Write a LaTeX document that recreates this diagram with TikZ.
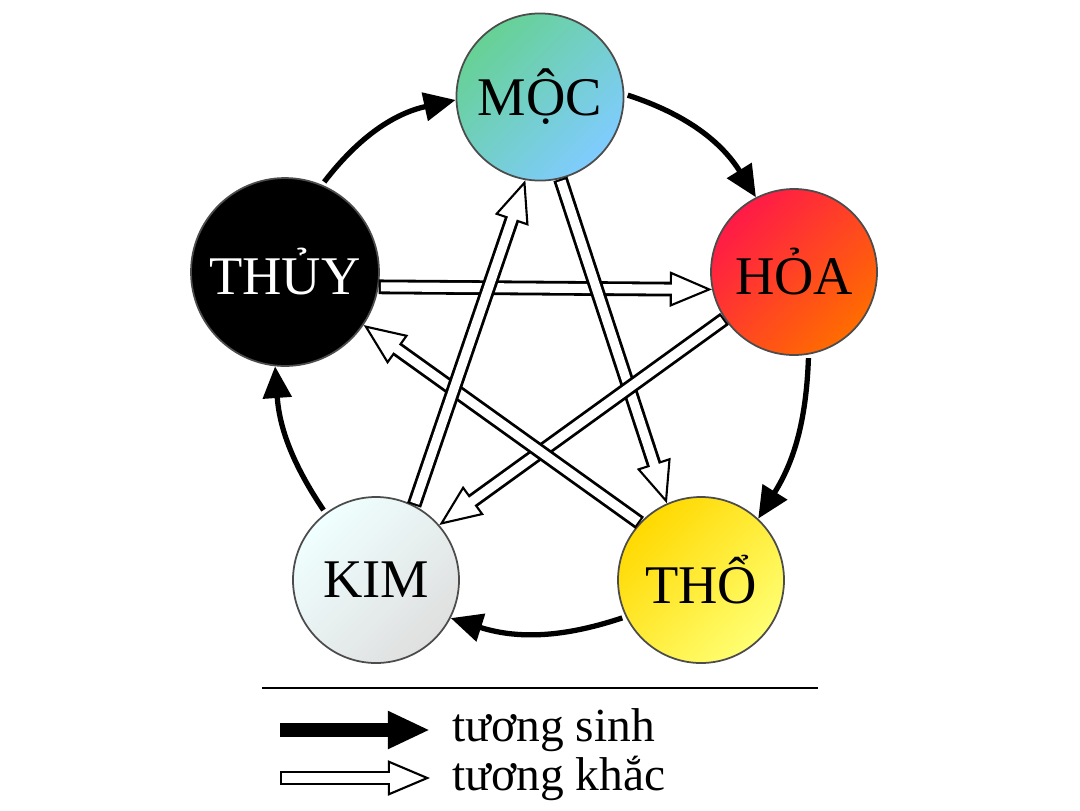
\documentclass[tikz,border=0pt]{standalone}
\usepackage{fontspec}
\setmainfont{Liberation Serif}
\usetikzlibrary{arrows.meta}
\begin{document}
\begin{tikzpicture}[
    hanh/.style={circle, draw=black!70, line width=0.5pt, minimum size=1.66cm, font=\fontsize{15.5}{16}\selectfont},
    sinh/.style={line width=1.5pt, -{Triangle[length=9pt,width=8pt]}, shorten <=1pt},
    khac/.style={line width=4.2pt, -{Triangle[length=12pt,width=10pt,fill=white,line width=0.6pt]},
        postaction={draw=white, line width=2.6pt, -, shorten >=11pt, shorten <=0.6pt}},
  ]
  \useasboundingbox (0,0) rectangle (10.8,8.1);

  % Elements
  \node[hanh, left color=teal!60!green!60, right color=cyan!60!blue!50, shading angle=45] (moc) at (5.40,7.13) {MỘC};
  \node[hanh, left color=red!80!magenta!90, right color=orange!85!red, shading angle=45] (hoa) at (7.94,5.38) {HỎA};
  \node[hanh, left color=yellow!70!orange, right color=yellow!55, shading angle=45] (tho) at (7.01,2.30) {THỔ};
  \node[hanh, left color=cyan!6, right color=gray!25, shading angle=45] (kim) at (3.76,2.30) {KIM};
  \node[hanh, left color=black, middle color=gray!80, right color=black, shading angle=45, text=white] (thuy) at (2.85,5.38) {THỦY};

  % Generating cycle
  \draw[sinh] (moc.2) to[bend left=20] (hoa.117);
  \draw[sinh] (hoa.-80) to[bend left=15] (tho.47);
  \draw[sinh] (tho.206) to[bend left=18] (kim.-27);
  \draw[sinh] (kim.127) to[bend left=15] (thuy.-96);
  \draw[sinh] (thuy.67) to[bend left=20] (moc.182);

  % Overcoming cycle
  \draw[khac] (thuy.-9) -- (hoa.192);
  \draw[khac] (moc.-76) -- (tho.114);
  \draw[khac] (hoa.214) -- (kim.41);
  \draw[khac] (tho.137) -- (thuy.-34);
  \draw[khac] (kim.63) -- (moc.260);

  % Legend
  \draw[line width=0.6pt] (2.62,1.22) coordinate (la) -- (8.18,1.22) coordinate (lb);
  \coordinate (s1) at (2.80,0.80);
  \coordinate (s2) at (4.30,0.80);
  \coordinate (k1) at (2.80,0.32);
  \coordinate (k2) at (4.30,0.32);
  \draw[line width=4pt, -{Triangle[length=12pt,width=10pt]}] (s1) -- (s2);
  \draw[khac] (k1) -- (k2);
  \node[anchor=west, font=\fontsize{13.5}{14}\selectfont] (lsinh) at (4.40,0.80) {tương sinh};
  \node[anchor=west, font=\fontsize{13.5}{14}\selectfont] (lkhac) at (4.40,0.32) {tương khắc};
\end{tikzpicture}
\end{document}
